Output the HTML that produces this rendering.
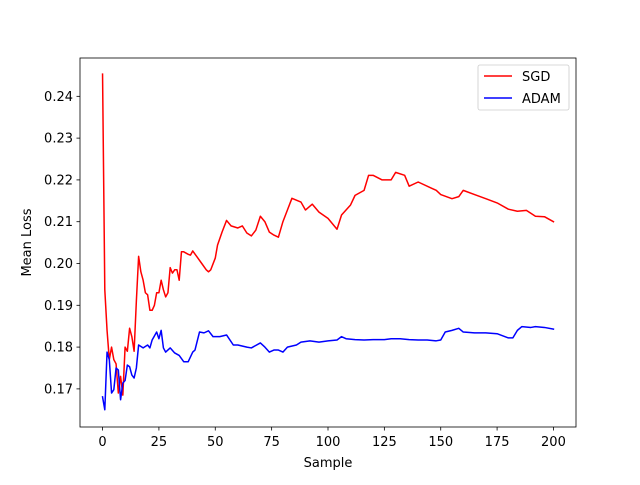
<!DOCTYPE html>
<html><head><meta charset="utf-8"><style>
body{margin:0;background:#fff}
svg{font-family:"DejaVu Sans","Liberation Sans",sans-serif}
</style></head><body>
<svg id="chart" width="640" height="480" xmlns="http://www.w3.org/2000/svg">
<rect width="640" height="480" fill="#fff"/>
<g id="plot"></g>
</svg>
<script>
const xTicks=[0,25,50,75,100,125,150,175,200];
const yTicks=[0.17,0.18,0.19,0.20,0.21,0.22,0.23,0.24];
const yTickLabels=["0.17","0.18","0.19","0.20","0.21","0.22","0.23","0.24"];
const sgdX=[0,1,2,3,4,5,6,7,8,9,10,11,12,13,14,15,16,17,18,19,20,21,22,23,24,25,26,27,28,29,30,31,32,33,34,35,36,37,38,39,40,42,44,46,47,48,50,51,53,55,57,60,62,64,66,68,70,72,74,76,78,80,82,84,88,90,93,96,100,104,106,110,112,116,118,120,124,128,130,134,136,140,146,148,150,155,158,160,165,170,175,180,184,188,192,196,200];
const sgdY=[0.2453,0.1937,0.184,0.177,0.180,0.177,0.176,0.169,0.173,0.1685,0.180,0.179,0.1845,0.1825,0.179,0.191,0.2017,0.198,0.196,0.193,0.1925,0.1888,0.1888,0.190,0.193,0.193,0.196,0.1937,0.192,0.193,0.199,0.1977,0.1985,0.1985,0.196,0.2028,0.2028,0.2025,0.2022,0.202,0.203,0.2015,0.200,0.1985,0.198,0.1985,0.2013,0.2044,0.2075,0.2103,0.209,0.2085,0.209,0.2073,0.2066,0.208,0.2113,0.210,0.2075,0.2068,0.2063,0.210,0.2128,0.2156,0.2147,0.2128,0.2142,0.2123,0.2108,0.2082,0.2116,0.214,0.2163,0.2175,0.2211,0.2211,0.22,0.22,0.2218,0.2211,0.2185,0.2195,0.218,0.2175,0.2165,0.2155,0.216,0.2175,0.2165,0.2155,0.2145,0.213,0.2125,0.2127,0.2113,0.2112,0.21];
const adamX=[0,1,2,3,4,5,6,7,8,9,10,11,12,13,14,15,16,18,20,21,22,24,25,26,27,28,30,32,34,36,38,40,41,43,45,47,49,52,55,58,60,64,66,70,72,74,76,78,80,82,86,88,92,96,100,104,106,108,112,116,120,125,128,132,136,140,144,148,150,152,155,158,160,165,170,175,180,182,184,186,190,192,196,200];
const adamY=[0.1681,0.165,0.1788,0.177,0.169,0.1698,0.175,0.1745,0.1674,0.1714,0.172,0.1757,0.1753,0.1733,0.1726,0.175,0.1805,0.1798,0.1805,0.1798,0.1817,0.1836,0.182,0.184,0.1798,0.1788,0.1798,0.1786,0.178,0.1765,0.1765,0.1788,0.1793,0.1836,0.1834,0.1839,0.1825,0.1825,0.1829,0.1805,0.1805,0.18,0.1798,0.181,0.18,0.1788,0.1793,0.1793,0.1788,0.18,0.1805,0.1812,0.1815,0.1812,0.1815,0.1817,0.1825,0.182,0.1818,0.1817,0.1818,0.1818,0.182,0.182,0.1818,0.1817,0.1817,0.1815,0.1817,0.1836,0.184,0.1845,0.1836,0.1834,0.1834,0.1832,0.1822,0.1822,0.184,0.1849,0.1847,0.1849,0.1847,0.1843];

const L=80,R=576,T=58,B=427;
const xMin=-10,xMax=210,yMin=0.16088,yMax=0.24917;
const sx=v=>L+(v-xMin)/(xMax-xMin)*(R-L);
const sy=v=>B-(v-yMin)/(yMax-yMin)*(B-T);
const NS="http://www.w3.org/2000/svg";
const g=document.getElementById('plot');
function mk(tag,attrs,parent){const e=document.createElementNS(NS,tag);for(const k in attrs)e.setAttribute(k,attrs[k]);(parent||g).appendChild(e);return e;}

function line(xs,ys,color,name){
  const d=xs.map((x,i)=>(i?'L':'M')+sx(x).toFixed(2)+','+sy(ys[i]).toFixed(2)).join(' ');
  const p=mk('path',{d:d,fill:'none',stroke:color,'stroke-width':1.5,'stroke-linejoin':'round','stroke-linecap':'square'});
  
  
}
line(sgdX,sgdY,'#ff0000','sgd-line');
line(adamX,adamY,'#0000ff','adam-line');

const frame=mk('rect',{x:L,y:T,width:R-L,height:B-T,fill:'none',stroke:'#000','stroke-width':0.8});



xTicks.forEach(v=>{
  const x=sx(v);
  mk('line',{x1:x,y1:B,x2:x,y2:B+3.5,stroke:'#000','stroke-width':0.8});
  const t=mk('text',{x:x,y:B+19,'text-anchor':'middle','font-size':'13px',fill:'#000'});
  t.textContent=v;
  
  
});
yTicks.forEach((v,i)=>{
  const y=sy(v);
  mk('line',{x1:L,y1:y,x2:L-3.5,y2:y,stroke:'#000','stroke-width':0.8});
  const t=mk('text',{x:L-7,y:y+4.5,'text-anchor':'end','font-size':'13px',fill:'#000'});
  t.textContent=yTickLabels[i];
  
  
});
const xt=mk('text',{x:(L+R)/2,y:467,'text-anchor':'middle','font-size':'13px'});
xt.textContent='Sample';


const yt=mk('text',{x:31,y:(T+B)/2,'text-anchor':'middle','font-size':'13px',transform:'rotate(-90 31 '+((T+B)/2)+')'});
yt.textContent='Mean Loss';



const lg=mk('g',{});


mk('rect',{x:478,y:65,width:91,height:45,rx:2,fill:'#fff','fill-opacity':0.8,stroke:'#ccc','stroke-width':0.8},lg);
[['SGD','#ff0000',76],['ADAM','#0000ff',98]].forEach(([n,c,y])=>{
  const e=mk('g',{},lg);
  
  
  mk('line',{x1:484,y1:y,x2:512,y2:y,stroke:c,'stroke-width':1.5},e);
  const t=mk('text',{x:522,y:y+5,'font-size':'13px'},e);
  t.textContent=n;
});
</script>
</body></html>
